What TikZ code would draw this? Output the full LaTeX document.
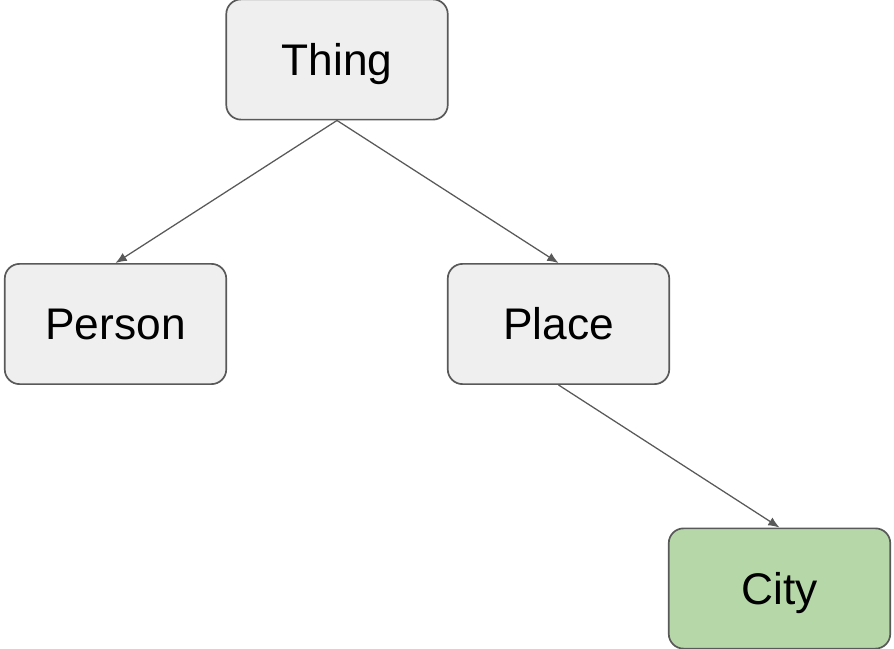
\documentclass[tikz,border=0pt]{standalone}
\usepackage{fontspec}
\setmainfont{Liberation Sans}
\usetikzlibrary{arrows.meta}
\definecolor{boxgray}{HTML}{EFEFEF}
\definecolor{boxgreen}{HTML}{B6D7A8}
\definecolor{edgegray}{HTML}{595959}
\tikzset{
  classbox/.style={draw=edgegray, line width=1.2pt, rounded corners=10.5pt, fill=boxgray,
    minimum width=157.5pt, minimum height=85.5pt, inner sep=0pt,
    text height=22.6pt, text depth=0pt,
    font=\fontsize{31.5}{36}\selectfont},
  leafbox/.style={classbox, fill=boxgreen},
  isa/.style={draw=edgegray, line width=0.9pt, -{Latex[length=8pt,width=6.5pt]}}
}
\begin{document}
\begin{tikzpicture}[x=0.025cm, y=-0.025cm]
		%%%%% START %%%%%
		\useasboundingbox (0, 0) rectangle (894, 649);
		
		\node[classbox] (thing) at (337, 59.5) {Thing};
		\node[classbox] (person) at (115.5, 324) {Person};
		\node[classbox] (place) at (558.5, 324) {Place};
		\node[leafbox] (city) at (779.5, 588.5) {City};
		
		\draw[isa] (thing.south) -- (person.north);
		\draw[isa] (thing.south) -- (place.north);
		\draw[isa] (place.south) -- (city.north);
		
		%%%%% END %%%%%
	\end{tikzpicture}
\end{document}
